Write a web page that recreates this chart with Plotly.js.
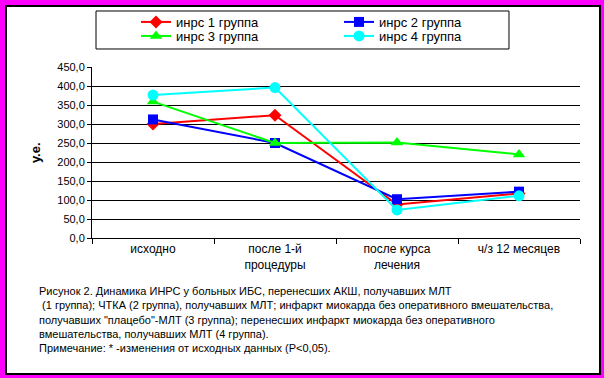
<!DOCTYPE html>
<html>
<head>
<meta charset="utf-8">
<script src="https://cdn.plot.ly/plotly-3.0.1.min.js"></script>
<style>
  html, body { margin: 0; padding: 0; background: #FF00FF; width: 604px; height: 378px; overflow: hidden; }
  #frame { position: absolute; left: 5px; top: 5px; width: 596px; height: 370px; box-sizing: border-box; border: 2px solid #000; background: #fff; }
  #chart { width: 592px; height: 366px; }
</style>
</head>
<body>
<div id="frame"><div id="chart"></div></div>
<script>
const categories = ['исходно', 'после 1-й<br>процедуры', 'после курса<br>лечения', 'ч/з 12 месяцев'];
const seriesNames = ['инрс 1 группа', 'инрс 2 группа', 'инрс 3 группа', 'инрс 4 группа'];
const group1 = [300, 323, 88, 117];
const group2 = [312, 250, 102, 122];
const group3 = [359, 250, 251, 220];
const group4 = [376, 396, 74, 111];
const yTicks = [0, 50, 100, 150, 200, 250, 300, 350, 400, 450];
const yTitle = 'у.е.';
const caption = [
  'Рисунок 2. Динамика ИНРС у больных ИБС, перенесших АКШ, получавших МЛТ',
  '\u00a0(1 группа); ЧТКА (2 группа), получавших МЛТ; инфаркт миокарда без оперативного вмешательства,',
  'получавших "плацебо"-МЛТ (3 группа); перенесших инфаркт миокарда без оперативного',
  'вмешательства, получавших МЛТ (4 группа).',
  'Примечание: * -изменения от исходных данных (Р&lt;0,05).'
];

const FONT = 'Arial, "Liberation Sans", sans-serif';
const styles = [
  {color: '#FF0000', symbol: 'diamond', size: 10, legend: 'legend'},
  {color: '#0000FF', symbol: 'square', size: 10, legend: 'legend'},
  {color: '#00FF00', symbol: 'triangle-up', size: 11, legend: 'legend2'},
  {color: '#00FFFF', symbol: 'circle', size: 11, legend: 'legend2'}
];
const values = [group1, group2, group3, group4];

const traces = values.map((v, i) => ({
  type: 'scatter',
  mode: 'lines+markers',
  name: seriesNames[i],
  legend: styles[i].legend,
  x: categories,
  y: v,
  line: {color: styles[i].color, width: 2},
  marker: {color: styles[i].color, symbol: styles[i].symbol, size: styles[i].size}
}));

function legendAt(y) {
  return {
    orientation: 'h',
    x: 0.0902, y: y, xanchor: 'left', yanchor: 'top',
    xref: 'paper', yref: 'paper',
    entrywidth: 158, entrywidthmode: 'pixels',
    bgcolor: 'rgba(0,0,0,0)', borderwidth: 0,
    font: {family: FONT, size: 13, color: '#000'},
    traceorder: 'normal'
  };
}

const layout = {
  width: 592, height: 366,
  margin: {l: 85, r: 19, t: 60, b: 135, autoexpand: false},
  paper_bgcolor: '#ffffff',
  plot_bgcolor: '#ffffff',
  separators: ', ',
  font: {family: FONT, color: '#000', size: 11},
  showlegend: true,
  legend: legendAt(1.351),
  legend2: legendAt(1.269),
  xaxis: {
    type: 'category',
    range: [-0.5, 3.5],
    tickson: 'boundaries',
    ticks: 'outside', ticklen: 5, tickwidth: 1, tickcolor: '#000',
    showline: true, linecolor: '#000', linewidth: 1,
    showgrid: false, zeroline: false,
    tickfont: {family: FONT, size: 12, color: '#000'},
    fixedrange: true
  },
  yaxis: {
    range: [0, 450],
    tickvals: yTicks,
    tickformat: '.1f',
    ticks: 'outside', ticklen: 4, tickwidth: 1, tickcolor: '#000',
    showline: true, linecolor: '#000', linewidth: 1,
    showgrid: true, gridcolor: '#000', gridwidth: 1,
    zeroline: false,
    tickfont: {family: FONT, size: 11, color: '#000'},
    fixedrange: true
  },
  shapes: [{
    type: 'rect', xref: 'paper', yref: 'paper',
    x0: 0.0082, x1: 0.8545, y0: 1.1053, y1: 1.3275,
    line: {color: '#000', width: 1}, fillcolor: 'rgba(0,0,0,0)'
  }],
  annotations: [
    {
      text: yTitle, xref: 'paper', yref: 'paper',
      x: -0.1158, y: 0.5, xanchor: 'center', yanchor: 'middle',
      textangle: -90, showarrow: false,
      font: {family: FONT, size: 13, color: '#000', weight: 'bold'}
    },
    {
      text: caption.join('<br>'), xref: 'paper', yref: 'paper',
      x: -0.1127, y: -0.263, xanchor: 'left', yanchor: 'top',
      align: 'left', showarrow: false,
      font: {family: FONT, size: 11, color: '#000'}
    }
  ]
};

Plotly.newPlot('chart', traces, layout, {displayModeBar: false, staticPlot: true});
</script>
</body>
</html>
